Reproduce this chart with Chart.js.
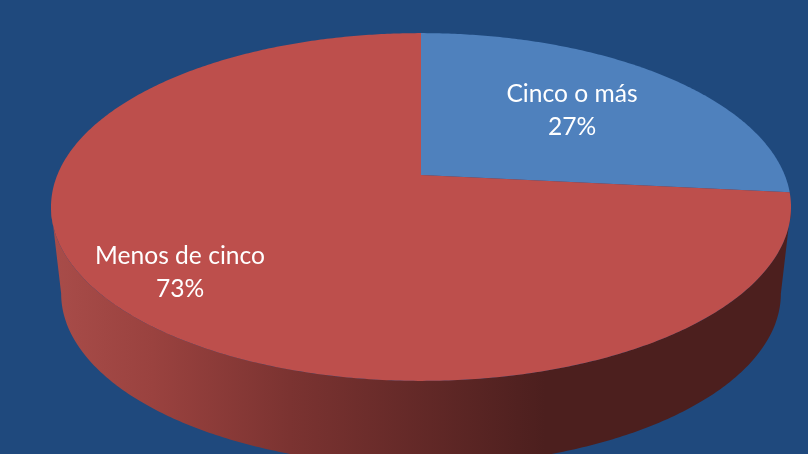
<!DOCTYPE html>
<html>
<head>
<meta charset="utf-8">
<script src="https://cdn.jsdelivr.net/npm/chart.js@4/dist/chart.umd.min.js"></script>
<style>
  html, body { margin: 0; padding: 0; background: #1f497d; overflow: hidden; }
  canvas { display: block; }
</style>
</head>
<body>
<canvas id="pie" width="808" height="454"></canvas>
<script>
// values, labels print them rounded
const categories = ['Cinco o más', 'Menos de cinco'];
const shares = [26.6, 73.4];
const sliceColors = ['#4f81bd', '#bd4f4c'];

// perspective of the tilted disc, top face and bottom face
const TILT = -0.184;
const TOP_FACE = { cx: 421, cy: 175, ax: 363.7, ay: 168 };
const BOTTOM_FACE = { cx: 421, cy: 262, ax: 353.7, ay: 166.2 };
const LABEL_SPOTS = [[572, 94, 127], [180, 256, 289]];

// the wall starts where the projected disc is at its widest
const WALL_FROM = Math.asin(-TILT);
const WALL_TO = Math.PI - WALL_FROM;

// angle on the chart's own arc -> point on a projected face
function project(face, angle) {
  const u = Math.cos(angle), v = Math.sin(angle);
  const w = 1 + TILT * v;
  return [face.cx + face.ax * u / w, face.cy + face.ay * v / w];
}

function tracePoints(ctx, face, from, to) {
  const steps = Math.max(2, Math.ceil(Math.abs(to - from) / 0.01));
  for (let i = 0; i <= steps; i++) {
    const p = project(face, from + (to - from) * i / steps);
    ctx.lineTo(p[0], p[1]);
  }
}

const tiltedPie = {
  id: 'tiltedPie',
  beforeDatasetsDraw(chart) {
    const ctx = chart.ctx;
    const arcs = chart.getDatasetMeta(0).data;

    // side wall, only the part of each arc facing the viewer
    const wall = ctx.createLinearGradient(55, 0, 545, 0);
    wall.addColorStop(0, '#a84c49');
    wall.addColorStop(0.2, '#9a423f');
    wall.addColorStop(0.48, '#7b3331');
    wall.addColorStop(1, '#4c1f1e');
    arcs.forEach(arc => {
      const from = Math.max(arc.startAngle, WALL_FROM);
      const to = Math.min(arc.endAngle, WALL_TO);
      if (to <= from) return;
      ctx.beginPath();
      tracePoints(ctx, TOP_FACE, from, to);
      tracePoints(ctx, BOTTOM_FACE, to, from);
      ctx.closePath();
      ctx.fillStyle = wall;
      ctx.fill();
    });

    // top face
    arcs.forEach((arc, i) => {
      ctx.beginPath();
      ctx.moveTo(TOP_FACE.cx, TOP_FACE.cy);
      tracePoints(ctx, TOP_FACE, arc.startAngle, arc.endAngle);
      ctx.closePath();
      ctx.fillStyle = sliceColors[i];
      ctx.fill();
    });

    // labels
    ctx.fillStyle = '#ffffff';
    ctx.font = '24.6px Lato';
    ctx.textAlign = 'center';
    ctx.textBaseline = 'middle';
    categories.forEach((name, i) => {
      const spot = LABEL_SPOTS[i];
      ctx.fillText(name, spot[0], spot[1]);
      ctx.fillText(Math.round(shares[i]) + '%', spot[0], spot[2]);
    });
    return false;
  }
};

new Chart(document.getElementById('pie'), {
  type: 'pie',
  data: {
    labels: categories,
    datasets: [{ data: shares, backgroundColor: sliceColors, borderWidth: 0 }]
  },
  options: {
    responsive: false,
    animation: false,
    plugins: { legend: { display: false }, tooltip: { enabled: false } }
  },
  plugins: [tiltedPie]
});
</script>
</body>
</html>
